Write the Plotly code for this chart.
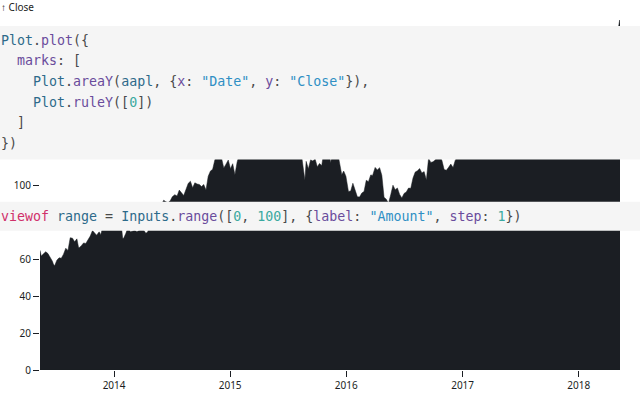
import plotly.graph_objects as go

# ---------------- data (AAPL close) ----------------
DATES = [
    "2013-05-13", "2013-05-17", "2013-05-24", "2013-05-31", "2013-06-07", "2013-06-14",
    "2013-06-21", "2013-06-24", "2013-06-28", "2013-07-05", "2013-07-12", "2013-07-19",
    "2013-07-26", "2013-08-02", "2013-08-09", "2013-08-16", "2013-08-23", "2013-08-30",
    "2013-09-06", "2013-09-11", "2013-09-13", "2013-09-20", "2013-09-27", "2013-10-04",
    "2013-10-11", "2013-10-18", "2013-10-25", "2013-11-01", "2013-11-07", "2013-11-15",
    "2013-11-20", "2013-11-29", "2013-12-06", "2013-12-13", "2013-12-20", "2013-12-27",
    "2014-01-03", "2014-01-10", "2014-01-17", "2014-01-24", "2014-01-28", "2014-01-31",
    "2014-02-07", "2014-02-14", "2014-02-21", "2014-02-28", "2014-03-07", "2014-03-14",
    "2014-03-21", "2014-03-28", "2014-04-04", "2014-04-11", "2014-04-17", "2014-04-25",
    "2014-05-02", "2014-05-09", "2014-05-16", "2014-05-23", "2014-05-30", "2014-06-06",
    "2014-06-13", "2014-06-20", "2014-06-27", "2014-07-03", "2014-07-11", "2014-07-18",
    "2014-07-25", "2014-08-01", "2014-08-08", "2014-08-15", "2014-08-22", "2014-08-29",
    "2014-09-05", "2014-09-12", "2014-09-19", "2014-09-26", "2014-10-03", "2014-10-10",
    "2014-10-17", "2014-10-24", "2014-10-31", "2014-11-07", "2014-11-14", "2014-11-21",
    "2014-11-28", "2014-12-05", "2014-12-12", "2014-12-19", "2014-12-26", "2015-01-02",
    "2015-01-09", "2015-01-16", "2015-01-23", "2015-01-30", "2015-02-06", "2015-02-13",
    "2015-02-20", "2015-02-27", "2015-03-06", "2015-03-13", "2015-03-20", "2015-03-27",
    "2015-04-02", "2015-04-10", "2015-04-17", "2015-04-24", "2015-05-01", "2015-05-08",
    "2015-05-15", "2015-05-22", "2015-05-29", "2015-06-05", "2015-06-12", "2015-06-19",
    "2015-06-26", "2015-07-02", "2015-07-10", "2015-07-17", "2015-07-24", "2015-07-31",
    "2015-08-07", "2015-08-14", "2015-08-21", "2015-08-24", "2015-08-28", "2015-09-04",
    "2015-09-11", "2015-09-18", "2015-09-25", "2015-10-02", "2015-10-09", "2015-10-16",
    "2015-10-23", "2015-10-30", "2015-11-06", "2015-11-13", "2015-11-20", "2015-11-27",
    "2015-12-04", "2015-12-11", "2015-12-18", "2015-12-24", "2015-12-31", "2016-01-08",
    "2016-01-15", "2016-01-22", "2016-01-29", "2016-02-05", "2016-02-12", "2016-02-19",
    "2016-02-26", "2016-03-04", "2016-03-11", "2016-03-18", "2016-03-24", "2016-04-01",
    "2016-04-08", "2016-04-15", "2016-04-22", "2016-04-29", "2016-05-06", "2016-05-13",
    "2016-05-20", "2016-05-27", "2016-06-03", "2016-06-10", "2016-06-17", "2016-06-24",
    "2016-07-01", "2016-07-08", "2016-07-15", "2016-07-22", "2016-07-29", "2016-08-05",
    "2016-08-12", "2016-08-19", "2016-08-26", "2016-09-02", "2016-09-09", "2016-09-16",
    "2016-09-23", "2016-09-30", "2016-10-07", "2016-10-14", "2016-10-21", "2016-10-28",
    "2016-11-04", "2016-11-11", "2016-11-18", "2016-11-25", "2016-12-02", "2016-12-09",
    "2016-12-16", "2016-12-23", "2016-12-30", "2017-01-06", "2017-01-13", "2017-01-20",
    "2017-01-27", "2017-02-03", "2017-02-10", "2017-02-17", "2017-02-24", "2017-03-03",
    "2017-03-10", "2017-03-17", "2017-03-24", "2017-03-31", "2017-04-07", "2017-04-13",
    "2017-04-21", "2017-04-28", "2017-05-05", "2017-05-12", "2017-05-19", "2017-05-26",
    "2017-06-02", "2017-06-09", "2017-06-16", "2017-06-23", "2017-06-30", "2017-07-07",
    "2017-07-14", "2017-07-21", "2017-07-28", "2017-08-04", "2017-08-11", "2017-08-18",
    "2017-08-25", "2017-09-01", "2017-09-08", "2017-09-15", "2017-09-22", "2017-09-29",
    "2017-10-06", "2017-10-13", "2017-10-20", "2017-10-27", "2017-11-03", "2017-11-10",
    "2017-11-17", "2017-11-24", "2017-12-01", "2017-12-08", "2017-12-15", "2017-12-22",
    "2017-12-29", "2018-01-05", "2018-01-12", "2018-01-19", "2018-01-26", "2018-02-02",
    "2018-02-09", "2018-02-16", "2018-02-23", "2018-03-02", "2018-03-09", "2018-03-16",
    "2018-03-23", "2018-03-29", "2018-04-06", "2018-04-13", "2018-04-20", "2018-04-27",
    "2018-05-04", "2018-05-10", "2018-05-11",
]
CLOSE = [
    64.96, 61.90, 63.10, 64.20, 63.20, 61.20,
    59.10, 57.50, 56.60, 59.60, 60.90, 60.70,
    62.90, 66.10, 64.90, 71.80, 71.60, 69.60,
    71.20, 66.80, 66.40, 67.50, 69.00, 68.70,
    70.40, 72.70, 75.70, 74.30, 73.20, 75.00,
    73.50, 79.40, 80.00, 79.20, 78.40, 80.00,
    77.30, 76.10, 77.30, 78.00, 71.50, 71.50,
    74.20, 77.70, 75.00, 75.20, 75.80, 75.00,
    76.10, 76.70, 76.00, 74.20, 75.00, 81.70,
    84.60, 83.70, 85.40, 87.70, 90.40, 92.20,
    91.30, 90.90, 91.98, 94.03, 95.22, 94.43,
    97.67, 96.13, 94.74, 97.98, 101.32, 102.50,
    98.97, 101.66, 100.96, 100.75, 99.62, 100.73,
    97.67, 105.22, 108.00, 109.01, 114.18, 116.47,
    118.93, 115.00, 109.73, 111.78, 113.99, 109.33,
    112.01, 105.99, 112.98, 117.16, 118.93, 127.08,
    129.50, 128.46, 126.60, 123.59, 125.90, 123.25,
    125.32, 127.10, 124.75, 130.28, 128.95, 127.62,
    128.77, 132.54, 130.28, 128.65, 127.17, 126.60,
    126.75, 126.44, 123.28, 129.62, 124.50, 121.30,
    115.52, 115.96, 105.76, 103.12, 113.29, 109.27,
    114.21, 113.45, 114.71, 110.38, 112.12, 111.04,
    119.08, 119.50, 121.06, 112.34, 119.30, 117.81,
    119.03, 113.18, 106.03, 108.03, 105.26, 96.96,
    97.13, 101.42, 97.34, 94.02, 93.99, 96.04,
    96.91, 103.01, 102.26, 105.92, 105.67, 109.99,
    108.66, 109.85, 105.68, 93.74, 92.72, 90.52,
    95.22, 100.35, 97.92, 98.83, 95.33, 93.40,
    95.89, 96.68, 98.78, 98.66, 104.21, 107.48,
    108.18, 109.36, 106.94, 107.73, 103.13, 114.92,
    112.71, 113.05, 114.06, 117.63, 116.60, 113.72,
    108.84, 108.43, 110.06, 111.79, 109.90, 113.95,
    115.97, 116.52, 115.82, 117.91, 119.04, 120.00,
    121.95, 129.08, 132.12, 135.72, 136.66, 139.14,
    139.14, 139.99, 140.64, 143.66, 143.34, 141.05,
    142.27, 143.65, 148.96, 156.10, 153.06, 153.61,
    155.45, 148.98, 142.27, 146.28, 144.02, 144.18,
    149.04, 150.27, 149.50, 156.39, 157.48, 157.50,
    159.86, 164.05, 158.63, 159.88, 151.89, 154.12,
    155.30, 156.99, 156.25, 163.05, 172.50, 174.67,
    170.15, 174.97, 171.05, 169.37, 173.87, 175.01,
    169.23, 175.00, 177.09, 178.46, 171.51, 160.50,
    156.41, 172.43, 175.50, 176.21, 179.98, 178.02,
    164.94, 167.78, 168.38, 174.73, 165.72, 162.32,
    183.83, 190.04, 188.59,
]
RULE_Y = [0]
Y_TICKS = [0, 20, 40, 60, 100]          # ticks left visible by the code cells
X_TICKS = ["2014-01-01", "2015-01-01", "2016-01-01", "2017-01-01", "2018-01-01"]
X_TICK_LABELS = ["2014", "2015", "2016", "2017", "2018"]
Y_LABEL = "↑ Close"

CODE_CELL_1 = [
    [("Plot", "id"), (".", "p"), ("plot", "prop"), ("({", "p")],
    [("  ", "p"), ("marks", "prop"), (": [", "p")],
    [("    ", "p"), ("Plot", "id"), (".", "p"), ("areaY", "prop"), ("(", "p"), ("aapl", "id"),
     (", {", "p"), ("x", "prop"), (": ", "p"), ('"Date"', "str"), (", ", "p"), ("y", "prop"),
     (": ", "p"), ('"Close"', "str"), ("}),", "p")],
    [("    ", "p"), ("Plot", "id"), (".", "p"), ("ruleY", "prop"), ("([", "p"), ("0", "num"), ("])", "p")],
    [("  ", "p"), ("]", "p")],
    [("})", "p")],
]
CODE_CELL_2 = [
    [("viewof", "kw"), (" ", "p"), ("range", "id"), (" = ", "p"), ("Inputs", "id"), (".", "p"),
     ("range", "prop"), ("([", "p"), ("0", "num"), (", ", "p"), ("100", "num"), ("], {", "p"),
     ("label", "prop"), (": ", "p"), ('"Amount"', "str"), (", ", "p"), ("step", "prop"),
     (": ", "p"), ("1", "num"), ("})", "p")],
]

# ---------------- styling ----------------
W, H = 640, 400
ML, MR, MT, MB = 40, 20, 20, 30
INK = "#1b1e23"
CODE_BG = "#f5f5f5"
TOKEN_COLORS = {"id": "#2d6a8a", "prop": "#6a4c9c", "str": "#2f8fc4",
                "num": "#3aa9a0", "kw": "#d0306a", "p": "#4a4a4a"}
MONO = "DejaVu Sans Mono"
SANS = "Noto Sans"
CODE_SIZE = 13.3

PW, PH = W - ML - MR, H - MT - MB


def px(xp):
    return (xp - ML) / PW


def py(yp):
    return (H - MB - yp) / PH


def render(tokens):
    out = []
    for txt, kind in tokens:
        t = txt.replace(" ", "\u00a0")
        out.append(f'<span style="color:{TOKEN_COLORS[kind]}">{t}</span>')
    return "".join(out)


fig = go.Figure()
fig.add_trace(go.Scatter(
    x=DATES, y=CLOSE, mode="lines", fill="tozeroy",
    line=dict(width=0.5, color=INK), fillcolor=INK, hoverinfo="skip",
))
fig.add_hline(y=RULE_Y[0], line=dict(color=INK, width=1))

shapes = [
    dict(type="rect", xref="paper", yref="paper", x0=px(0), x1=px(W), y0=py(159.5), y1=py(26),
         fillcolor=CODE_BG, line=dict(width=0), layer="above"),
    dict(type="rect", xref="paper", yref="paper", x0=px(0), x1=px(W), y0=py(230.8), y1=py(201.7),
         fillcolor=CODE_BG, line=dict(width=0), layer="above"),
]
for s in shapes:
    fig.add_shape(**s)

annotations = [dict(text=Y_LABEL, xref="paper", yref="paper", x=px(0), y=py(6.5),
                    xanchor="left", yanchor="middle", showarrow=False,
                    font=dict(family=SANS, size=10, color=INK), borderpad=0)]
for i, line in enumerate(CODE_CELL_1):
    annotations.append(dict(text=render(line), xref="paper", yref="paper",
                            x=px(0), y=py(40.5 + 20.5 * i), xanchor="left", yanchor="middle",
                            showarrow=False, borderpad=0,
                            font=dict(family=MONO, size=CODE_SIZE, color=TOKEN_COLORS["p"])))
for i, line in enumerate(CODE_CELL_2):
    annotations.append(dict(text=render(line), xref="paper", yref="paper",
                            x=px(0), y=py(216.3 + 20.5 * i), xanchor="left", yanchor="middle",
                            showarrow=False, borderpad=0,
                            font=dict(family=MONO, size=CODE_SIZE, color=TOKEN_COLORS["p"])))
fig.update_layout(annotations=annotations)

fig.update_layout(
    width=W, height=H, autosize=False,
    margin=dict(l=ML, r=MR, t=MT, b=MB, pad=0, autoexpand=False),
    paper_bgcolor="white", plot_bgcolor="white",
    showlegend=False, hovermode=False,
    font=dict(family=SANS, size=10, color=INK),
)
fig.update_xaxes(
    type="date", range=[DATES[0], DATES[-1]], showgrid=False, zeroline=False, showline=False,
    automargin=False,
    ticks="outside", ticklen=6, tickwidth=1, tickcolor=INK,
    tickvals=X_TICKS, ticktext=X_TICK_LABELS,
    tickfont=dict(family=SANS, size=10, color=INK),
)
fig.update_yaxes(
    range=[0, max(CLOSE)], showgrid=False, zeroline=False, showline=False,
    automargin=False,
    ticks="outside", ticklen=6, tickwidth=1, tickcolor=INK,
    tickvals=Y_TICKS,
    tickfont=dict(family=SANS, size=10, color=INK),
)

fig.write_html(
    "out.html",
    config={"displayModeBar": False},
    post_script="document.body.style.margin='0';document.body.style.overflow='hidden';",
)
